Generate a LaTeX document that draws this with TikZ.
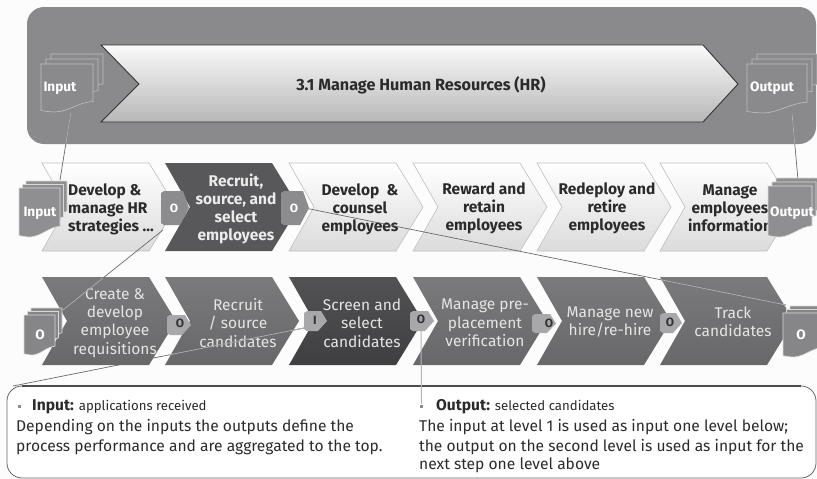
\documentclass[tikz,border=0pt]{standalone}
\usepackage{fontspec}
\setmainfont{Fira Sans}
\usetikzlibrary{calc}
\definecolor{panel}{HTML}{8A8A8C}
\definecolor{rowmid}{HTML}{7A7A7C}
\definecolor{rowdark}{HTML}{58585A}
\definecolor{rowblack}{HTML}{3F3F41}
\definecolor{wire}{HTML}{6A6A6C}
\definecolor{wirelight}{HTML}{B4B4B6}
\definecolor{ink}{HTML}{2B2B2B}
\definecolor{pagefill}{HTML}{8F8F91}
\definecolor{tagmid}{HTML}{8C8C8E}
\definecolor{taglight}{HTML}{A8A8AA}
\tikzset{
  lightchev/.style={draw=black!25,line width=.6pt,top color=white,bottom color=black!14},
  midchev/.style={top color=rowmid,bottom color=rowmid!85!black,draw=none},
  darkchev/.style={fill=rowdark,draw=none},
  blackchev/.style={top color=rowblack!90!white,bottom color=rowblack,draw=none},
  topchev/.style={draw=black!80,line width=.9pt,top color=black!2,bottom color=black!28},
  boldtxt/.style={text=ink,font=\fontsize{15.5}{18}\selectfont\fontseries{sb}\selectfont,align=center,inner sep=0pt},
  whitetxt/.style={boldtxt,text=black!8},
  lighttxt/.style={text=black!10,font=\fontsize{15.5}{18.3}\selectfont\fontseries{l}\selectfont,align=center,inner sep=0pt},
  doctxt/.style={text=white,font=\fontsize{13.6}{15}\selectfont\bfseries,inner sep=0pt},
  tagtxt/.style={font=\fontsize{12}{14}\selectfont\bfseries,inner sep=0pt},
  wireline/.style={draw=wire,line width=.7pt},
  wireover/.style={draw=wirelight,line width=.7pt},
  bodytxt/.style={text=ink,font=\fontsize{15.6}{20}\selectfont,inner sep=0pt,anchor=west},
  headtxt/.style={text=ink,inner sep=0pt,anchor=west},
}
\newcommand{\headbold}{\fontsize{15.6}{16}\fontseries{b}\selectfont}
\newcommand{\headthin}{\fontsize{13.2}{16}\fontseries{l}\selectfont}
% chevron: left x, top y, style
\newcommand{\chev}[3]{\path[#3] (#1,#2) -- ++(107,0) -- ++(27,44) -- ++(-27,44) -- ++(-107,0) -- ++(25,-44) -- cycle;}
% one page of a document: x, y, w, h, fill, draw
\newcommand{\docpage}[6]{\path[fill=#5,draw=#6,line width=.6pt] (#1,#2) -- (#1+#3,#2) -- (#1+#3,#2+#4*.78)
   .. controls (#1+#3*.72,#2+#4*.80) and (#1+#3*.55,#2+#4*.98) .. (#1+#3*.28,#2+#4*1.0)
   .. controls (#1+#3*.16,#2+#4*1.0) and (#1+#3*.08,#2+#4*.98) .. (#1,#2+#4*.97) -- cycle;}
% stack: front left x, front top y, w, h, step, fill, draw
\newcommand{\docstack}[7]{%
  \docpage{#1+2*#5}{#2-2*#5}{#3}{#4*.8}{#6}{#7}
  \docpage{#1+#5}{#2-#5}{#3}{#4*.85}{#6}{#7}
  \docpage{#1}{#2}{#3}{#4}{#6}{#7}}
% tag: x, y, w, h, fill
\newcommand{\tagshape}[5]{\path[fill=#5] (#1,#2+2) -- (#1+3,#2) -- (#1+#3-6,#2) -- (#1+#3,#2+#4*.5) -- (#1+#3-9,#2+#4) -- (#1+3,#2+#4) -- (#1,#2+#4-2) -- cycle;}
\begin{document}
\begin{tikzpicture}[x=1pt,y=-1pt]
\useasboundingbox (0,0) rectangle (817,479);
\fill[black!1] (0,0) rectangle (817,479);
% top panel
\path[fill=panel,rounded corners=17pt] (27,7) rectangle (816,144);
\path[topchev] (101,45) -- (703,45) -- (738,84) -- (703,122) -- (101,122) -- (139,84) -- cycle;
\node[boldtxt,font=\fontsize{16.2}{18}\selectfont\bfseries] (main) at (421,85) {3.1 Manage Human Resources (HR)};
% row 2
\chev{42}{163}{lightchev}
\chev{165}{163}{darkchev}
\chev{289}{163}{lightchev}
\chev{413}{163}{lightchev}
\chev{537}{163}{lightchev}
\chev{660}{163}{lightchev}
\node[boldtxt,align=left,anchor=west] (a1) at (68,209) {Develop \&\\manage HR\\strategies ...};
\node[whitetxt] (a2) at (236,209) {Recruit,\\source, and\\select\\employees};
\node[boldtxt] (a3) at (360,209) {Develop\ \ \&\\counsel\\employees};
\node[boldtxt] (a4) at (484,208) {Reward and\\retain\\employees};
\node[boldtxt] (a5) at (607,208) {Redeploy and\\retire\\employees};
\node[boldtxt] (a6) at (730,208) {Manage\\employees\\information};
% row 3
\chev{42}{277}{midchev}
\chev{165}{277}{midchev}
\chev{289}{277}{blackchev}
\chev{413}{277}{midchev}
\chev{537}{277}{midchev}
\chev{660}{277}{midchev}
\node[lighttxt] (b1) at (115,323) {Create \&\\develop\\employee\\requisitions};
\node[lighttxt] (b2) at (238,323) {Recruit\\/ source\\candidates};
\node[lighttxt] (b3) at (362,323) {Screen and\\select\\candidates};
\node[lighttxt] (b4) at (485,323) {Manage pre-\\placement\\verification};
\node[lighttxt] (b5) at (610,322) {Manage new\\hire/re-hire};
\node[lighttxt] (b6) at (733,322) {Track\\candidates};
% callout
\path[fill=white,draw=black!60,line width=.8pt,rounded corners=15pt] (7,386) rectangle (816,478);
\draw[black!70,line width=1.1pt] (22,386) -- (801,386);
\fill[black!45] (17.5,404.5) rectangle (20.5,407.5);
\node[headtxt] (c1) at (32,407) {\headbold Input: \headthin applications received};
\node[bodytxt] (c2) at (16,427) {Depending on the inputs the outputs define the};
\node[bodytxt] (c3) at (16,447) {process performance and are aggregated to the top.};
\node[headtxt] (d1) at (436,407) {\headbold Output: \headthin selected candidates};
\node[bodytxt] (d2) at (419,427) {The input at level 1 is used as input one level below;};
\node[bodytxt] (d3) at (419,447) {the output on the second level is used as input for the};
\node[bodytxt] (d4) at (419,465) {next step one level above};
% connector ends
\coordinate (inTop) at (71,112);
\coordinate (inMid) at (60,180);
\coordinate (outTop) at (792,113);
\coordinate (outMid) at (798,180);
\coordinate (o2) at (305,208);
\coordinate (docR) at (786,305);
\coordinate (o1) at (163,230);
\coordinate (docL) at (63,310);
\coordinate (tagI) at (304,328);
\coordinate (calloutL) at (13,386);
\coordinate (tagO) at (421,330);
\coordinate (bulletO) at (421.5,404);
% connectors
\draw[wireline] (inTop) -- (inMid);
\draw[wireover] (inTop) -- ($(inTop)!.47!(inMid)$);
\draw[wireline] (outTop) -- (outMid);
\draw[wireover] (outTop) -- ($(outTop)!.48!(outMid)$);
\draw[wireline] (o2) -- (docR);
\draw[wireover] ($(o2)!.74!(docR)$) -- (docR);
\draw[wireline] (o1) -- (docL);
\draw[wireover] ($(o1)!.6!(docL)$) -- (docL);
\draw[wireline] (tagI) -- (calloutL);
\draw[wireover] (tagI) -- ($(tagI)!.47!(calloutL)$);
\draw[wireover,line width=1pt] (tagO) -- (bulletO);
\fill[black!45] (420,404.5) rectangle (423,407.5);
% tags row 2
\tagshape{161}{191}{28}{34}{tagmid}
\node[tagtxt,text=white] (t1) at (174,208) {O};
\tagshape{281}{191}{28}{34}{tagmid}
\node[tagtxt,text=white] (t2) at (294,208) {O};
% tags row 3
\tagshape{167}{315}{24}{20}{taglight}
\node[tagtxt,text=black!80] (t3) at (180,323) {O};
\tagshape{304}{311}{23}{20}{taglight}
\node[tagtxt,text=black!80] (t4) at (315,320) {I};
\tagshape{410}{311}{24}{20}{taglight}
\node[tagtxt,text=black!80] (t5) at (421,319) {O};
\tagshape{532}{314}{24}{19}{taglight}
\node[tagtxt,text=black!80] (t6) at (549,323) {O};
\tagshape{660}{313}{22}{20}{taglight}
\node[tagtxt,text=black!80] (t7) at (670,322) {O};
% documents
\docstack{41}{64}{52}{48}{5}{panel}{black!25}
\node[doctxt] (e1) at (60,88) {Input};
\docstack{747}{64}{60}{49}{5}{panel}{black!25}
\node[doctxt] (e2) at (772,88) {Output};
\docstack{19}{188}{41}{49}{3.5}{pagefill}{black!15}
\node[doctxt] (e3) at (40,213) {Input};
\docstack{768}{186}{44}{51}{4}{pagefill}{black!15}
\node[doctxt] (e4) at (792,213) {Output};
\docstack{24}{315}{31}{40}{3.5}{taglight!80!black}{black!15}
\node[doctxt] (e5) at (40,335) {O};
\docstack{783}{313}{40}{44}{3.5}{taglight!80!black}{black!15}
\node[doctxt] (e6) at (801,335) {O};
\end{tikzpicture}
\end{document}
